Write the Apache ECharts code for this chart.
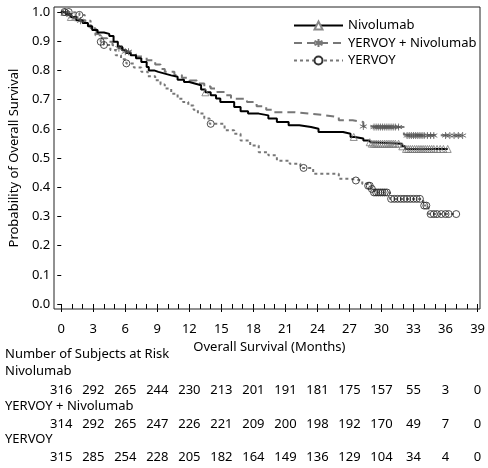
<!DOCTYPE html>
<html>
<head>
<meta charset="utf-8">
<script src="https://cdn.jsdelivr.net/npm/echarts@6/dist/echarts.min.js"></script>
<style>
  html, body { margin: 0; padding: 0; background: #fff; }
  #chart { width: 488px; height: 468px; }
</style>
</head>
<body>
<div id="chart"></div>
<script>
// Kaplan-Meier estimates (months, survival probability)
var nivoTime = [0, 0.4, 0.9, 1.4, 2.0, 2.5, 2.9, 3.4, 4.0, 4.5, 4.9, 5.3, 5.7, 6.1, 6.5, 7.0, 7.5, 8.0, 8.2, 8.7, 9.1, 9.7, 10.3, 10.9, 11.5, 12.0, 12.5, 13.1, 13.5, 14.0, 14.5, 14.9, 16.2, 16.8, 17.5, 18.5, 19.4, 20.2, 21.3, 22.3, 23.4, 24.1, 26.4, 27.1, 27.5, 28.3, 28.8, 29.0, 31.9, 32.2, 36.2];
var nivoSurv = [1.0, 0.993, 0.983, 0.972, 0.962, 0.951, 0.938, 0.930, 0.925, 0.918, 0.898, 0.882, 0.869, 0.860, 0.852, 0.842, 0.829, 0.812, 0.800, 0.795, 0.789, 0.783, 0.778, 0.768, 0.760, 0.755, 0.749, 0.735, 0.725, 0.715, 0.704, 0.692, 0.675, 0.660, 0.652, 0.646, 0.635, 0.623, 0.612, 0.606, 0.600, 0.589, 0.583, 0.572, 0.567, 0.560, 0.554, 0.549, 0.540, 0.531, 0.531];

var comboTime = [0, 0.5, 1.0, 1.6, 2.2, 2.8, 3.3, 3.8, 4.3, 4.8, 5.4, 6.0, 6.5, 7.0, 7.5, 8.0, 8.8, 9.3, 9.7, 10.6, 11.3, 12.0, 12.7, 13.4, 14.0, 14.6, 15.3, 15.9, 17.4, 18.3, 19.2, 19.9, 21.7, 23.3, 24.8, 26.0, 27.3, 28.3, 29.0, 32.1, 32.3, 37.6];
var comboSurv = [1.0, 0.990, 0.980, 0.970, 0.955, 0.940, 0.925, 0.910, 0.898, 0.886, 0.876, 0.864, 0.855, 0.848, 0.843, 0.835, 0.820, 0.805, 0.795, 0.784, 0.775, 0.765, 0.755, 0.745, 0.738, 0.726, 0.715, 0.703, 0.692, 0.677, 0.665, 0.657, 0.652, 0.646, 0.640, 0.629, 0.623, 0.608, 0.606, 0.580, 0.577, 0.577];

var yervoyTime = [0, 0.9, 1.7, 2.2, 2.75, 3.2, 3.7, 4.0, 4.6, 5.1, 5.6, 6.1, 6.8, 7.5, 8.1, 8.8, 9.3, 9.7, 10.3, 10.9, 11.4, 11.9, 12.4, 12.8, 13.4, 13.9, 15.3, 16.2, 16.8, 17.7, 18.5, 19.4, 20.2, 21.4, 22.4, 23.6, 26.0, 27.0, 28.2, 28.7, 29.0, 29.3, 30.8, 33.9, 34.4, 37.0];
var yervoySurv = [1.0, 0.997, 0.990, 0.970, 0.944, 0.920, 0.898, 0.887, 0.870, 0.852, 0.838, 0.824, 0.810, 0.795, 0.780, 0.766, 0.752, 0.738, 0.720, 0.703, 0.692, 0.680, 0.665, 0.652, 0.635, 0.617, 0.595, 0.583, 0.560, 0.543, 0.520, 0.509, 0.491, 0.480, 0.466, 0.446, 0.429, 0.423, 0.411, 0.405, 0.394, 0.382, 0.360, 0.337, 0.308, 0.308];

// censored observations (months)
var nivoCensor = [0.3, 0.9, 13.5, 27.4, 28.9, 29.1, 29.3, 29.5, 29.7, 29.9, 30.1, 30.3, 30.5, 30.7, 30.9, 31.1, 31.3, 31.6, 31.95, 32.3, 32.5, 32.7, 32.9, 33.1, 33.3, 33.5, 33.7, 33.9, 34.1, 34.3, 34.5, 34.7, 34.9, 35.2, 35.5, 35.8, 36.2];
var comboCensor = [0.4, 0.8, 1.3, 1.8, 5.4, 6.0, 6.3, 28.3, 29.3, 29.5, 29.7, 29.9, 30.1, 30.3, 30.5, 30.7, 30.9, 31.1, 31.3, 31.6, 32.4, 32.6, 32.8, 33.0, 33.2, 33.4, 33.6, 33.8, 34.0, 34.3, 34.6, 34.9, 36.0, 36.4, 36.8, 37.2, 37.6];
var yervoyCensor = [0.3, 0.7, 1.7, 3.7, 4.0, 6.1, 14.0, 22.7, 27.6, 28.75, 28.9, 29.1, 29.3, 29.5, 29.7, 29.9, 30.1, 30.3, 30.5, 30.9, 31.2, 31.5, 31.8, 32.1, 32.4, 32.7, 33.0, 33.3, 33.6, 34.0, 34.2, 34.6, 34.9, 35.2, 35.6, 36.0, 36.3, 37.0];

// number of subjects at risk, every 3 months from 0 to 39
var nivoRisk = [316, 292, 265, 244, 230, 213, 201, 191, 181, 175, 157, 55, 3, 0];
var comboRisk = [314, 292, 265, 247, 226, 221, 209, 200, 198, 192, 170, 49, 7, 0];
var yervoyRisk = [315, 285, 254, 228, 205, 182, 164, 149, 136, 129, 104, 34, 4, 0];

var font = "'Noto Sans', 'Liberation Sans', sans-serif";
var stretch = 'condensed';
var fs = 13;
var starPath = 'path://M5,0L5,10M0.7,2.5L9.3,7.5M9.3,2.5L0.7,7.5';

function pairs(times, surv) {
    var out = [];
    for (var i = 0; i < times.length; i++) {
        out.push([times[i], surv[i]]);
    }
    return out;
}

function censorPoints(times, surv, censor) {
    var out = [];
    for (var j = 0; j < censor.length; j++) {
        var s = surv[0];
        for (var i = 0; i < times.length; i++) {
            if (times[i] <= censor[j]) s = surv[i];
        }
        out.push([censor[j], s]);
    }
    return out;
}

function txt(extra) {
    var t = { fontSize: fs, color: '#000', fontFamily: font, fontWeight: stretch };
    for (var k in extra) t[k] = extra[k];
    return t;
}

function riskAxis(risk, offset) {
    return {
        type: 'value', min: 0, max: 39, interval: 3, position: 'bottom', offset: offset,
        axisLine: { show: false }, axisTick: { show: false }, splitLine: { show: false },
        axisLabel: txt({
            margin: 0,
            formatter: function(v) { return String(risk[Math.round(v / 3)]); }
        })
    };
}

var chart = echarts.init(document.getElementById('chart'));
var option = {
    animation: false,
    textStyle: { fontFamily: font, color: '#000' },
    grid: { left: 57, right: 10, top: 12, bottom: 164 },
    legend: {
        orient: 'vertical', left: 288, top: 14,
        itemWidth: 49, itemHeight: 10, itemGap: 4.5,
        textStyle: txt({}),
        data: ['Nivolumab', 'YERVOY + Nivolumab', 'YERVOY']
    },
    xAxis: [
        {
            type: 'value', min: 0, max: 39, interval: 3, offset: 5,
            name: 'Overall Survival (Months)', nameLocation: 'middle', nameGap: 32,
            nameTextStyle: txt({}),
            axisLine: { show: false },
            axisTick: { length: 8, lineStyle: { color: '#000' } },
            minorTick: { show: true, splitNumber: 3, length: 5, lineStyle: { color: '#000' } },
            splitLine: { show: false },
            axisLabel: txt({ margin: 14 })
        },
        riskAxis(nivoRisk, 80),
        riskAxis(comboRisk, 114),
        riskAxis(yervoyRisk, 147)
    ],
    yAxis: {
        type: 'value', min: 0, max: 1, interval: 0.1, offset: 3,
        name: 'Probability of Overall Survival', nameLocation: 'middle', nameGap: 37,
        nameTextStyle: txt({}),
        axisLine: { show: false },
        axisTick: { show: true, length: 4, lineStyle: { color: '#000' } },
        splitLine: { show: false },
        axisLabel: txt({
            margin: 8,
            formatter: function(v) { return v.toFixed(1); }
        })
    },
    graphic: [
        { type: 'rect', shape: { x: 54, y: 7, width: 426, height: 302 }, style: { fill: 'none', stroke: '#222', lineWidth: 1 }, z: 10 },
        { type: 'text', left: 5, top: 348, style: txt({ text: 'Number of Subjects at Risk', fill: '#000' }) },
        { type: 'text', left: 5, top: 365, style: txt({ text: 'Nivolumab', fill: '#000' }) },
        { type: 'text', left: 5, top: 400, style: txt({ text: 'YERVOY + Nivolumab', fill: '#000' }) },
        { type: 'text', left: 5, top: 433, style: txt({ text: 'YERVOY', fill: '#000' }) }
    ],
    series: [
        {
            name: 'Nivolumab', type: 'line', step: 'end', showSymbol: false,
            symbol: 'triangle', symbolSize: 9,
            itemStyle: { color: '#fff', borderColor: '#888', borderWidth: 1 },
            lineStyle: { color: '#000', width: 2 },
            data: pairs(nivoTime, nivoSurv), z: 3
        },
        {
            name: 'YERVOY + Nivolumab', type: 'line', step: 'end', showSymbol: false,
            symbol: starPath, symbolSize: 10,
            itemStyle: { color: 'none', borderColor: '#777', borderWidth: 1 },
            lineStyle: { color: '#777', width: 2, type: [8, 5] },
            data: pairs(comboTime, comboSurv), z: 2
        },
        {
            name: 'YERVOY', type: 'line', step: 'end', showSymbol: false,
            symbol: 'circle', symbolSize: 9,
            itemStyle: { color: '#fff', borderColor: '#333', borderWidth: 1 },
            lineStyle: { color: '#777', width: 2, type: [3, 3] },
            data: pairs(yervoyTime, yervoySurv), z: 2
        },
        {
            name: 'Nivolumab censored', type: 'scatter', symbol: 'triangle', symbolSize: 7,
            itemStyle: { color: 'none', borderColor: '#777', borderWidth: 1 },
            data: censorPoints(nivoTime, nivoSurv, nivoCensor), z: 4
        },
        {
            name: 'Combo censored', type: 'scatter', symbol: starPath, symbolSize: 7,
            itemStyle: { color: 'none', borderColor: '#555', borderWidth: 1 },
            data: censorPoints(comboTime, comboSurv, comboCensor), z: 4
        },
        {
            name: 'YERVOY censored', type: 'scatter', symbol: 'circle', symbolSize: 7,
            itemStyle: { color: 'none', borderColor: '#222', borderWidth: 1 },
            data: censorPoints(yervoyTime, yervoySurv, yervoyCensor), z: 4
        }
    ]
};
chart.setOption(option);
</script>
</body>
</html>
